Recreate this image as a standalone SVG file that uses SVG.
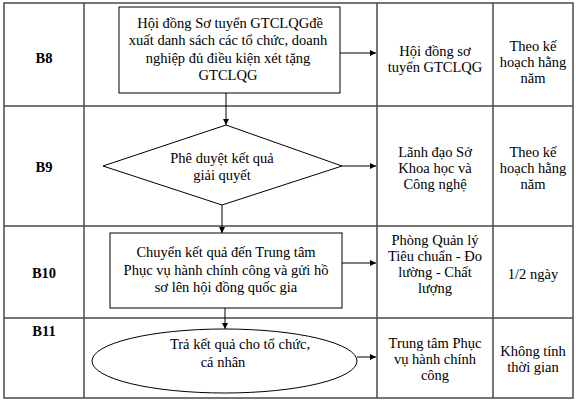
<svg xmlns="http://www.w3.org/2000/svg" width="576" height="402" viewBox="0 0 576 402">
<defs>
<marker id="ah" viewBox="0 0 10 10" refX="10" refY="5" markerWidth="6" markerHeight="6" markerUnits="userSpaceOnUse" orient="auto">
<path d="M0,0 L10,5 L0,10 z" fill="#000"/>
</marker>
<style>
.grid{stroke:#4a4a4a;stroke-width:1.5;fill:none}
.shape{stroke:#000;stroke-width:1;fill:#fff}
.conn{stroke:#000;stroke-width:1;fill:none;marker-end:url(#ah)}
text{font-size:14.5px;fill:#000;text-anchor:middle}
.b{font-weight:bold}
</style>
</defs>
<rect width="576" height="402" fill="#fff"/>
<g font-family="Liberation Serif, Times New Roman, serif">
<g id="table">
<rect class="grid" x="4" y="3" width="569" height="395"/>
<line class="grid" x1="84" y1="3" x2="84" y2="398"/>
<line class="grid" x1="377" y1="3" x2="377" y2="398"/>
<line class="grid" x1="493" y1="3" x2="493" y2="398"/>
<line class="grid" x1="4" y1="106" x2="573" y2="106"/>
<line class="grid" x1="4" y1="226" x2="573" y2="226"/>
<line class="grid" x1="4" y1="318" x2="573" y2="318"/>
</g>
<g id="labels">
<text class="b" x="44" y="63">B8</text>
<text class="b" x="44" y="172">B9</text>
<text class="b" x="44" y="278">B10</text>
<text class="b" x="44" y="336">B11</text>
</g>
<g id="node-b8">
<rect class="shape" x="119" y="7" width="221" height="86"/>
<text x="230" y="28">Hội đồng Sơ tuyển GTCLQGđề</text>
<text x="228" y="45">xuất danh sách các tổ chức, doanh</text>
<text x="228" y="63">nghiệp đủ điều kiện xét tặng</text>
<text x="228" y="80">GTCLQG</text>
</g>
<g id="node-b9">
<polygon class="shape" points="226,125 342,166 222,205 103,166"/>
<text x="222" y="163">Phê duyệt kết quả</text>
<text x="222" y="180">giải quyết</text>
</g>
<g id="node-b10">
<rect class="shape" x="110" y="233" width="232" height="75"/>
<text x="226" y="257">Chuyển kết quả đến Trung tâm</text>
<text x="226" y="275">Phục vụ hành chính công và gửi hồ</text>
<text x="226" y="292">sơ lên hội đồng quốc gia</text>
</g>
<g id="node-b11">
<ellipse class="shape" cx="224.5" cy="361" rx="132.5" ry="32"/>
<text x="240" y="349">Trả kết quả cho tổ chức,</text>
<text x="223" y="367">cá nhân</text>
</g>
<g id="resp">
<text x="435" y="56">Hội đồng sơ</text>
<text x="435" y="72">tuyển GTCLQG</text>
<text x="435" y="157">Lãnh đạo Sở</text>
<text x="435" y="173">Khoa học và</text>
<text x="435" y="189">Công nghệ</text>
<text x="435" y="245">Phòng Quản lý</text>
<text x="435" y="261">Tiêu chuẩn - Đo</text>
<text x="435" y="277">lường - Chất</text>
<text x="435" y="293">lượng</text>
<text x="435" y="348">Trung tâm Phục</text>
<text x="435" y="364">vụ hành chính</text>
<text x="435" y="380">công</text>
</g>
<g id="time">
<text x="533" y="51">Theo kế</text>
<text x="533" y="67">hoạch hằng</text>
<text x="533" y="83">năm</text>
<text x="533" y="157">Theo kế</text>
<text x="533" y="173">hoạch hằng</text>
<text x="533" y="189">năm</text>
<text x="533" y="279">1/2 ngày</text>
<text x="533" y="356">Không tính</text>
<text x="533" y="372">thời gian</text>
</g>
</g>
<g id="connectors">
<line class="conn" x1="340" y1="53" x2="376" y2="53"/>
<line class="conn" x1="226" y1="93" x2="226" y2="125"/>
<line class="conn" x1="342" y1="166" x2="376" y2="166"/>
<line class="conn" x1="222" y1="205" x2="222" y2="233"/>
<line class="conn" x1="342" y1="263" x2="376" y2="263"/>
<line class="conn" x1="225" y1="308" x2="225" y2="329"/>
<line class="conn" x1="357" y1="357" x2="376" y2="357"/>
</g>
</svg>
